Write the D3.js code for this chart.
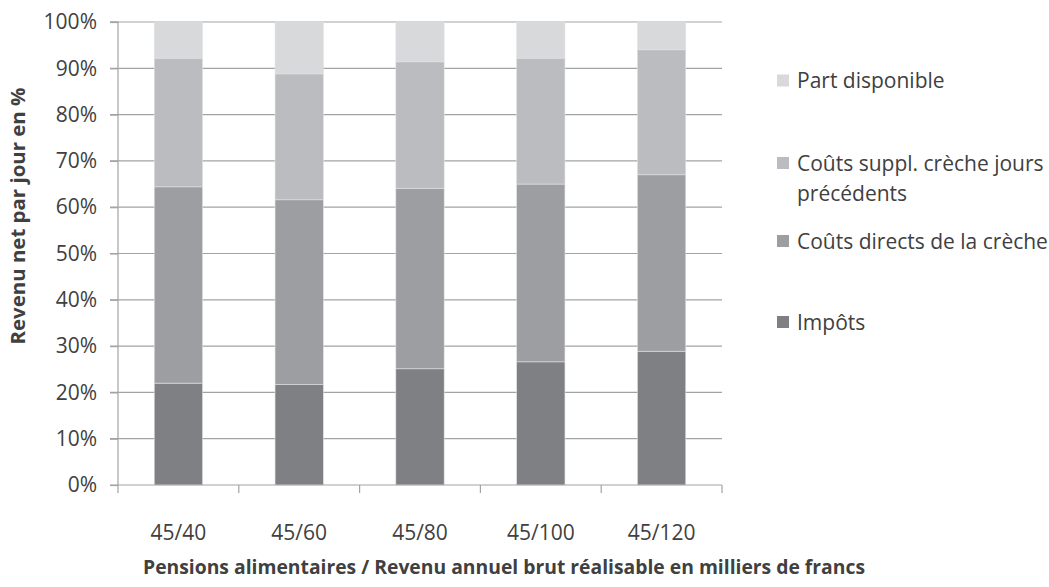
<!DOCTYPE html>
<html><head><meta charset="utf-8">
<script src="https://cdn.jsdelivr.net/npm/d3@7"></script>
<style>body{margin:0;background:#fff}svg{display:block}text{font-family:"Open Sans",sans-serif;fill:#404040}</style>
</head><body>
<svg id="c" width="1049" height="587"></svg>
<script>
const categories = ["45/40","45/60","45/80","45/100","45/120"];
const seriesNames = ["Impôts","Coûts directs de la crèche","Coûts suppl. crèche jours précédents","Part disponible"];
const impots = [22.0, 21.7, 25.1, 26.6, 28.9];
const directs = [42.4, 39.9, 39.0, 38.4, 38.1];
const suppl = [27.8, 27.2, 27.3, 27.2, 27.0];
const disponible = [7.8, 11.2, 8.6, 7.8, 6.0];
const yTicks = [0,10,20,30,40,50,60,70,80,90,100];
const colors = ["#7f8084","#9d9ea2","#bbbcc0","#d8d9db"];

const svg = d3.select("#c");
const L=118, R=722, T=22, B=485;
const x = d3.scaleBand().domain(categories).range([L,R]).paddingInner(0.6).paddingOuter(0.3);
const y = d3.scaleLinear().domain([0,100]).range([B,T]);

const rows = categories.map((c,i)=>({cat:c, s0:impots[i], s1:directs[i], s2:suppl[i], s3:disponible[i]}));
const stack = d3.stack().keys(["s0","s1","s2","s3"])(rows);

// gridlines
svg.append("g").selectAll("line").data(yTicks.filter(d=>d>0)).join("line")
  .attr("x1",L-8).attr("x2",R).attr("y1",d=>y(d)).attr("y2",d=>y(d))
  .attr("stroke","#a3a3a3").attr("stroke-width",1.2);

// bars
svg.append("g").selectAll("g").data(stack).join("g").attr("fill",(d,i)=>colors[i])
  .selectAll("rect").data(d=>d).join("rect")
  .attr("x",d=>x(d.data.cat)).attr("width",x.bandwidth())
  .attr("y",d=>y(d[1])).attr("height",d=>y(d[0])-y(d[1]))
  .attr("stroke","#e2e2e4").attr("stroke-width",0.6);

// y axis
const ya = svg.append("g").attr("transform",`translate(${L},0)`)
  .call(d3.axisLeft(y).tickValues(yTicks).tickFormat(d=>d+"%").tickSize(8).tickPadding(13));
ya.select(".domain").attr("stroke","#a3a3a3").attr("stroke-width",1.2).attr("d",`M-8,${T}H0V${B}`);
ya.selectAll(".tick line").attr("stroke","#a3a3a3").attr("stroke-width",1.2);
ya.selectAll("text").style("font-size","21px").style("font-family","'Open Sans',sans-serif").attr("fill","#404040");

// x axis
const xa = svg.append("g").attr("transform",`translate(0,${B})`);
xa.append("line").attr("x1",L-8).attr("x2",R).attr("y1",0).attr("y2",0).attr("stroke","#a3a3a3").attr("stroke-width",1.2);
xa.selectAll("line.t").data([L, ...categories.slice(1).map(c=>x(c)-(x.step()-x.bandwidth())/2), R]).join("line")
  .attr("class","t").attr("x1",d=>d).attr("x2",d=>d).attr("y1",0).attr("y2",8).attr("stroke","#a3a3a3").attr("stroke-width",1.2);
xa.selectAll("text").data(categories).join("text")
  .attr("x",d=>x(d)+x.bandwidth()/2).attr("y",55).attr("text-anchor","middle")
  .style("font-size","21px").text(d=>d);

// axis titles
svg.append("text").attr("x",504).attr("y",574).attr("text-anchor","middle")
  .attr("textLength",722).attr("lengthAdjust","spacingAndGlyphs")
  .style("font-size","19.5px").style("font-weight","bold").attr("fill","#1a1a1a").text("Pensions alimentaires / Revenu annuel brut réalisable en milliers de francs");
svg.append("text").attr("transform","translate(25,216) rotate(-90)").attr("text-anchor","middle")
  .attr("textLength",257).attr("lengthAdjust","spacingAndGlyphs")
  .style("font-size","19.5px").style("font-weight","bold").attr("fill","#1a1a1a").text("Revenu net par jour en %");

// legend
const leg = [
  {name:"Part disponible", lines:["Part disponible"], c:colors[3], cy:80.5},
  {name:"Coûts suppl. crèche jours précédents", lines:["Coûts suppl. crèche jours","précédents"], c:colors[2], cy:163},
  {name:"Coûts directs de la crèche", lines:["Coûts directs de la crèche"], c:colors[1], cy:241},
  {name:"Impôts", lines:["Impôts"], c:colors[0], cy:322}
];
const lg = svg.append("g").selectAll("g").data(leg).join("g");
lg.append("rect").attr("x",777).attr("y",d=>d.cy-6).attr("width",12).attr("height",12).attr("fill",d=>d.c);
lg.each(function(d){
  const t = d3.select(this).append("text").attr("x",797).attr("y",d.cy+7.5).style("font-size","21px");
  d.lines.forEach((l,i)=>t.append("tspan").attr("x",797).attr("dy",i?30:0).text(l));
});
</script>
</body></html>
